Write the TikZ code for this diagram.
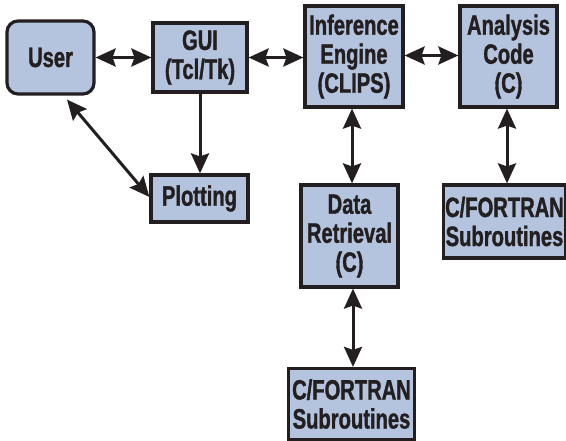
\documentclass[tikz,border=0pt]{standalone}
\usepackage{fontspec}
\newfontfamily\boxfont{Liberation Sans}[FakeStretch=0.72, BoldFeatures={FakeBold=1.2}]
\usetikzlibrary{arrows.meta}
\definecolor{boxfill}{RGB}{180,195,222}
\definecolor{ink}{RGB}{35,31,32}
\tikzset{
  tip/.tip={Stealth[length=20pt,width=18pt,inset=3pt]},
  blk/.style={draw=ink, fill=boxfill, line width=3.2pt, align=center, inner sep=0pt,
    font=\boxfont\bfseries\fontsize{28}{29}\selectfont, text=ink},
  conn/.style={draw=ink, line width=3pt, tip-tip},
  oneway/.style={draw=ink, line width=3pt, -tip}
}
\begin{document}
\begin{tikzpicture}[x=1pt,y=-1pt]
\useasboundingbox (0,0) rectangle (566,441);
\node[blk, rounded corners=11pt, minimum width=87pt, minimum height=73pt] (user) at (50.5,57.5) {User};
\node[blk, minimum width=94pt, minimum height=69pt] (gui) at (200,57.5) {GUI\\(Tcl/Tk)};
\node[blk, minimum width=97pt, minimum height=47pt] (plot) at (199.5,198.5) {Plotting};
\node[blk, minimum width=98pt, minimum height=101pt] (inf) at (354,56.5) {Inference\\Engine\\(CLIPS)};
\node[blk, minimum width=97pt, minimum height=101pt] (ana) at (508.5,56.5) {Analysis\\Code\\(C)};
\node[blk, minimum width=97pt, minimum height=102pt] (dr) at (349.5,236) {Data\\Retrieval\\(C)};
\node[blk, minimum width=122pt, minimum height=73pt] (cfr) at (504.5,221.5) {C/FORTRAN\\Subroutines};
\node[blk, minimum width=126pt, minimum height=71pt] (cfb) at (351.5,404) {C/FORTRAN\\Subroutines};
\draw[conn] (user.east) -- (gui.west);
\draw[conn] (gui.east) -- (gui.east -| inf.west);
\draw[conn] ([yshift=1]inf.east) -- ([yshift=1]inf.east -| ana.west);
\draw[oneway] (gui.south) -- (gui.south |- plot.north);
\draw[conn] ([shift={(16.5,4)}]user.south) -- ([shift={(0,-1.5)}]plot.west);
\draw[conn] ([xshift=-2]inf.south) -- ([xshift=-2]inf.south |- dr.north);
\draw[conn] ([xshift=-1.5]ana.south) -- ([xshift=-1.5]ana.south |- cfr.north);
\draw[conn] ([xshift=3.5]dr.south) -- ([xshift=3.5]dr.south |- cfb.north);
\end{tikzpicture}
\end{document}
